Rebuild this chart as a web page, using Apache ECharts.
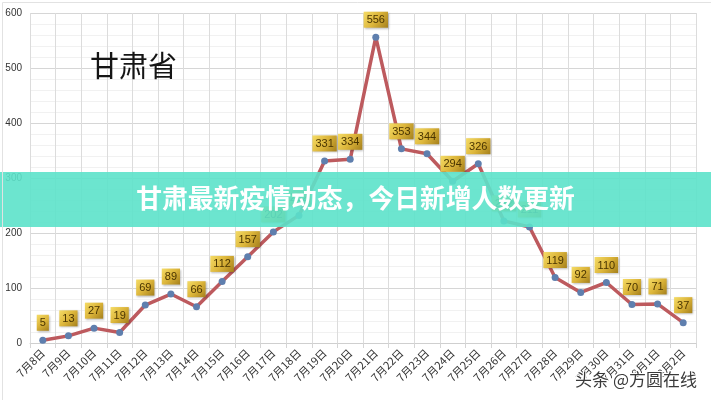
<!DOCTYPE html>
<html><head><meta charset="utf-8">
<script src="https://cdn.jsdelivr.net/npm/echarts@6/dist/echarts.min.js"></script>
<style>html,body{margin:0;padding:0;background:#fff}#c{width:711px;height:400px}</style>
</head><body><div id="c"></div>
<script>
const categories = ['7月8日','7月9日','7月10日','7月11日','7月12日','7月13日','7月14日','7月15日','7月16日','7月17日','7月18日','7月19日','7月20日','7月21日','7月22日','7月23日','7月24日','7月25日','7月26日','7月27日','7月28日','7月29日','7月30日','7月31日','8月1日','8月2日'];
const values = [5,13,27,19,69,89,66,112,157,202,232,331,334,556,353,344,294,326,222,211,119,92,110,70,71,37];
const yTicks = [0,100,200,300,400,500,600];
const chartTitle = '甘肃省';
const bannerText = '甘肃最新疫情动态，今日新增人数更新';
const watermark = '头条 @方圆在线';

const chart = echarts.init(document.getElementById('c'), null, {renderer:'canvas'});
const gold = new echarts.graphic.LinearGradient(0,0,1,1,[
  {offset:0,color:'#f5dc66'},{offset:0.5,color:'#dcb53a'},{offset:1,color:'#a5801c'}]);
chart.setOption({
  animation:false,
  backgroundColor:'#fff',
  grid:{left:30,right:15,top:13,bottom:57},
  xAxis:{type:'category',data:categories,boundaryGap:true,
    axisLine:{lineStyle:{color:'#cfcfcf'}},
    axisTick:{show:true,length:5,lineStyle:{color:'#d5d5d5'}},
    splitLine:{show:true,lineStyle:{color:'#dcdcdc'}},
    axisLabel:{rotate:45,fontSize:11,color:'#333',margin:8,interval:0,fontFamily:'Noto Sans CJK SC'}},
  yAxis:{type:'value',min:yTicks[0],max:yTicks[yTicks.length-1],interval:100,
    axisLine:{show:false},axisTick:{show:false},
    axisLabel:{fontSize:10,color:'#333',margin:8},
    splitLine:{lineStyle:{color:'#d6d6d6'}},
    minorTick:{show:false,splitNumber:5},
    minorSplitLine:{show:true,lineStyle:{color:'#f1f1f1'}}},
  series:[{type:'line',data:values,symbol:'circle',symbolSize:7,z:2,
    lineStyle:{color:'#bd5a5e',width:3.5},
    itemStyle:{color:'#5f7fae'},
    label:{show:true,position:'top',distance:6,fontSize:11,color:'#4a3500',
      backgroundColor:gold,padding:[3,3,2,3],
      shadowColor:'rgba(0,0,0,0.25)',shadowBlur:2,shadowOffsetX:1,shadowOffsetY:1}}],
  graphic:[
    {type:'text',left:90,top:51,z:1,style:{text:chartTitle,fontSize:29,fill:'#151515',fontFamily:'Noto Sans CJK SC'}},
    {type:'rect',left:0,top:172,z:100,shape:{width:711,height:55},style:{fill:'rgba(92,226,202,0.9)'}},
    {type:'text',left:'center',top:185,z:101,style:{text:bannerText,fontSize:25.8,fontWeight:'bold',fill:'#fff',fontFamily:'Noto Sans CJK SC',
      shadowColor:'rgba(0,0,0,0.15)',shadowBlur:2}},
    {type:'text',right:13,top:370,z:101,style:{text:watermark,fontSize:17,fill:'#3a3a3a',fontFamily:'Noto Sans CJK SC',
      stroke:'#fff',lineWidth:2}},
    {type:'rect',left:0,top:0,z:101,shape:{width:710,height:398},style:{fill:'none',stroke:'#e2e2e2',lineWidth:1}}
  ]
});
</script></body></html>
